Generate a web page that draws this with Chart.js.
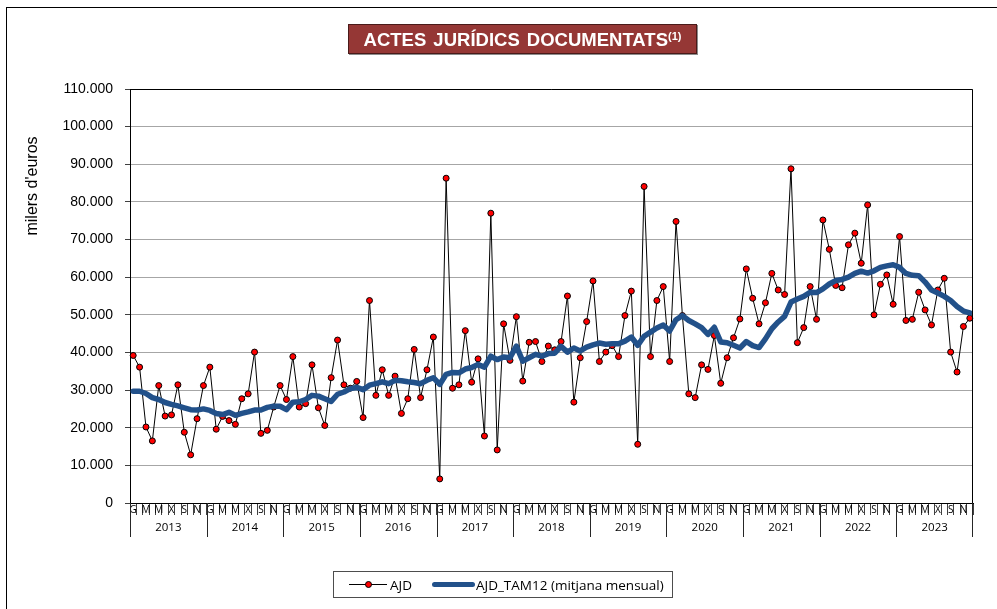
<!DOCTYPE html>
<html>
<head>
<meta charset="utf-8">
<title>Actes jurídics documentats</title>
<script src="https://cdn.jsdelivr.net/npm/chart.js@4.4.1/dist/chart.umd.min.js"></script>
<style>
  body { margin: 0; background: #fff; }
  #wrap { position: relative; width: 997px; height: 609px; overflow: hidden; background: #fff; }
  #frame { position: absolute; left: 6px; top: 7px; width: 1000px; height: 620px;
           border-left: 1px solid #000; border-top: 1px solid #000; }
  #chart { position: absolute; left: 0; top: 0; }
  #title { position: absolute; left: 348px; top: 24px; width: 347px; height: 28px;
           background: #953735; border: 1px solid #4a1a19; box-shadow: 1px 1px 0 #8c8c8c;
           color: #fff; font: bold 18.5px "Liberation Sans", Arial, sans-serif;
           text-align: center; line-height: 29px; white-space: nowrap; word-spacing: 2px; }
  #title sup { font-size: 11px; vertical-align: 6px; line-height: 0; word-spacing: 0; }
  #legend { position: absolute; left: 333px; top: 571px; width: 338px; height: 25px;
            border: 1px solid #4d4d4d; font: 13.5px "Open Sans", Lato, sans-serif; color: #000;
            display: flex; align-items: center; white-space: nowrap; }
  .item { display: flex; align-items: center; }
  .swatch { position: relative; display: inline-block; }
  .swatch .ln { position: absolute; left: 0; right: 0; top: 50%; }
  .swatch .dot { position: absolute; left: 50%; top: 50%; width: 5px; height: 5px;
                 margin: -3.5px 0 0 -3.5px; border-radius: 50%; border: 1px solid #000; }
</style>
</head>
<body>
<div id="wrap">
  <div id="frame"></div>
  <canvas id="chart" width="997" height="609"></canvas>
  <div id="title">ACTES JURÍDICS DOCUMENTATS<sup>(1)</sup></div>
  <div id="legend"></div>
</div>
<script>
// month initials (Catalan), one label per month
const monthLetters = ['G', 'F', 'M', 'A', 'M', 'J', 'X', 'A', 'S', 'O', 'N', 'D'];
const years = [2013, 2014, 2015, 2016, 2017, 2018, 2019, 2020, 2021, 2022, 2023];

// AJD monthly collection, thousands of euros
const ajd = [
  39200, 36100, 20200, 16500, 31200, 23100, 23400, 31400, 18800, 12800, 22400, 31200,
  36100, 19600, 23000, 21900, 20900, 27700, 29000, 40100, 18500, 19300, 25500, 31200,
  27500, 38900, 25500, 26400, 36700, 25300, 20600, 33300, 43300, 31400, 30500, 32300,
  22700, 53800, 28600, 35400, 28600, 33700, 23800, 27700, 40800, 28000, 35400, 44100,
  6400, 86300, 30500, 31400, 45800, 32100, 38300, 17800, 77000, 14100, 47600, 37900,
  49500, 32400, 42700, 42900, 37600, 41700, 40700, 42900, 55000, 26800, 38600, 48200,
  59000, 37600, 40100, 41800, 38900, 49800, 56300, 15600, 84100, 38900, 53800, 57500,
  37600, 74800, 49800, 29000, 28000, 36700, 35500, 44500, 31800, 38600, 43900, 48900,
  62200, 54400, 47600, 53200, 61000, 56600, 55400, 88800, 42600, 46600, 57500, 48800,
  75200, 67400, 57800, 57200, 68600, 71700, 63700, 79200, 50000, 58100, 60600, 52800,
  70800, 48500, 48800, 56000, 51300, 47300, 56600, 59700, 40100, 34800, 46900, 49100
];

// 12-month moving total, expressed as monthly average
const ajdTam12 = [
  29700, 29700, 29100, 28000, 27500, 26700, 26200, 25800, 25300, 24800, 24700, 25000,
  24600, 23800, 23500, 24100, 23300, 23800, 24200, 24700, 24700, 25400, 25700, 25700,
  24800, 26800, 26900, 27500, 28600, 28400, 27700, 27000, 28900, 29500, 30400, 30700,
  30100, 31300, 31700, 32200, 31700, 32600, 32500, 32200, 32000, 31700, 32600, 33300,
  31500, 34200, 34700, 34600, 35600, 36000, 36800, 36100, 39000, 38100, 38800, 38600,
  41700, 37700, 38600, 39500, 39000, 39700, 39800, 41600, 40100, 41200, 40400, 41400,
  42000, 42500, 42200, 42300, 42300, 43000, 44100, 41900, 44300, 45400, 46500, 47300,
  45700, 48700, 49800, 48500, 47600, 46600, 44800, 46700, 42800, 42600, 41900, 41200,
  42900, 41800, 41300, 43600, 46300, 48100, 49600, 53400, 54200, 54900, 56000, 55900,
  56900, 58200, 59100, 59400, 60000, 61000, 61600, 61100, 61700, 62600, 63000, 63300,
  62600, 61000, 60500, 60400, 58700, 56600, 55800, 54900, 53800, 52200, 51000, 50500
];

const yTitle = "milers d'euros";

const labels = [];
years.forEach(() => monthLetters.forEach(m => labels.push(m)));

function fmtThousands(v) {
  return String(v).replace(/\B(?=(\d{3})+(?!\d))/g, '.');
}

// plot frame, year row under the month letters and the rotated axis title
const axisExtras = {
  id: 'axisExtras',
  afterDraw(chart) {
    const { ctx, chartArea: a, scales: { x } } = chart;
    const half = (x.getPixelForValue(1) - x.getPixelForValue(0)) / 2;
    ctx.save();
    ctx.strokeStyle = '#000';
    ctx.lineWidth = 1;
    ctx.beginPath();
    ctx.moveTo(a.left, a.top + 0.5);
    ctx.lineTo(Math.round(a.right) - 0.5, a.top + 0.5);
    ctx.lineTo(Math.round(a.right) - 0.5, a.bottom);
    ctx.stroke();

    ctx.strokeStyle = '#262626';
    ctx.fillStyle = '#000';
    ctx.font = '11.5px "Open Sans", sans-serif';
    ctx.textAlign = 'center';
    ctx.textBaseline = 'middle';
    years.forEach((yr, i) => {
      const x0 = x.getPixelForValue(i * 12) - half;
      const x1 = x.getPixelForValue(i * 12 + 11) + half;
      ctx.beginPath();
      ctx.moveTo(Math.round(x0) + 0.5, a.bottom);
      ctx.lineTo(Math.round(x0) + 0.5, a.bottom + 34);
      if (i === years.length - 1) {
        ctx.moveTo(Math.round(x1) - 0.5, a.bottom);
        ctx.lineTo(Math.round(x1) - 0.5, a.bottom + 34);
      }
      ctx.stroke();
      ctx.fillText(String(yr), (x0 + x1) / 2, a.bottom + 25);
    });

    ctx.translate(33, 186);
    ctx.rotate(-Math.PI / 2);
    ctx.font = '16px "Liberation Sans", Arial, sans-serif';
    ctx.fillText(yTitle, 0, 0);
    ctx.restore();
  }
};

const chart = new Chart(document.getElementById('chart'), {
  type: 'line',
  data: {
    labels: labels,
    datasets: [
      {
        label: 'AJD',
        data: ajd,
        borderColor: '#000',
        borderWidth: 1,
        pointRadius: 3,
        pointBackgroundColor: '#ff0000',
        pointBorderColor: '#000',
        pointBorderWidth: 1,
        tension: 0,
        order: 1
      },
      {
        label: 'AJD_TAM12 (mitjana mensual)',
        data: ajdTam12,
        borderColor: '#22518a',
        borderWidth: 5.5,
        pointRadius: 0,
        borderJoinStyle: 'round',
        borderCapStyle: 'round',
        tension: 0,
        order: 0
      }
    ]
  },
  options: {
    responsive: false,
    animation: false,
    layout: { padding: { left: 0, right: 24, top: 89, bottom: 72 } },
    plugins: {
      legend: { display: false },
      title: { display: false },
      tooltip: { enabled: false }
    },
    scales: {
      x: {
        type: 'category',
        offset: true,
        afterFit: s => { s.height = 34; },
        grid: { offset: true, drawOnChartArea: false, drawTicks: true, tickLength: 12, color: '#404040' },
        border: { color: '#000', width: 1 },
        ticks: {
          autoSkip: false, maxRotation: 0, minRotation: 0, padding: -11,
          color: '#000', font: { family: '"Open Sans", sans-serif', size: 10 },
          callback: (v, i) => (i % 2 === 0 ? labels[i] : '')
        }
      },
      y: {
        min: 0, max: 110000,
        afterFit: s => { s.width = 130; },
        grid: { color: '#a6a6a6', tickColor: '#404040', tickLength: 5 },
        border: { color: '#000', width: 1 },
        ticks: {
          stepSize: 10000, padding: 12, color: '#000',
          font: { family: '"Liberation Sans", Arial, sans-serif', size: 14 },
          callback: v => fmtThousands(v)
        }
      }
    }
  },
  plugins: [axisExtras]
});

// legend built from the datasets
const legend = document.getElementById('legend');
chart.data.datasets.forEach((ds, i) => {
  const item = document.createElement('span');
  item.className = 'item';
  item.style.marginLeft = i === 0 ? '15px' : '20px';
  const sw = document.createElement('span');
  sw.className = 'swatch';
  sw.style.width = i === 0 ? '38px' : '43px';
  sw.style.height = '10px';
  const ln = document.createElement('span');
  ln.className = 'ln';
  ln.style.borderTop = ds.borderWidth + 'px solid ' + ds.borderColor;
  ln.style.marginTop = -(ds.borderWidth / 2) + 'px';
  if (ds.borderWidth > 2) ln.style.borderRadius = '3px';
  sw.appendChild(ln);
  if (ds.pointRadius > 0) {
    const dot = document.createElement('span');
    dot.className = 'dot';
    dot.style.background = ds.pointBackgroundColor;
    sw.appendChild(dot);
  }
  const txt = document.createElement('span');
  txt.textContent = ds.label;
  txt.style.marginLeft = i === 0 ? '3px' : '1px';
  item.appendChild(sw);
  item.appendChild(txt);
  legend.appendChild(item);
});
</script>
</body>
</html>
